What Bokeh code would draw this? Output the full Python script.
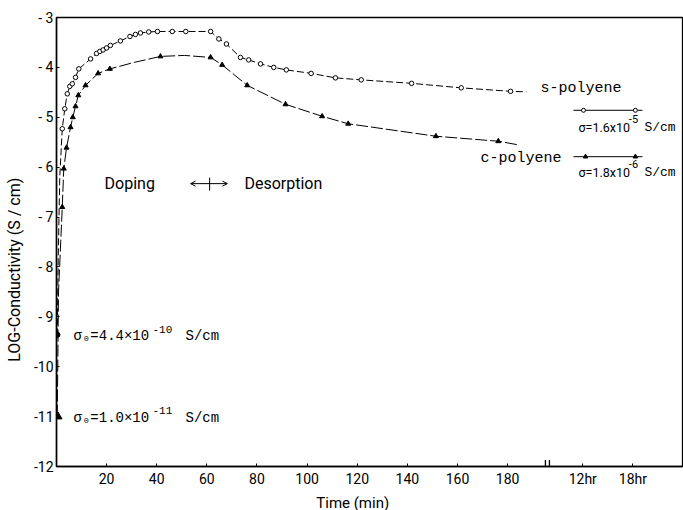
from bokeh.plotting import figure
from bokeh.models import Label, Arrow, OpenHead, FixedTicker
from bokeh.embed import file_html
from bokeh.resources import INLINE

# ---------------- data ----------------
# s-polyene markers (open circles)
s_time = [2.3, 3.3, 4.3, 5.3, 6.3, 7.6, 8.9, 13.6, 16.0, 17.3, 18.6, 20.0, 21.5,
          25.5, 29.3, 31.5, 33.5, 36.8, 40.3, 46.2, 51.6, 61.5, 64.8, 67.8, 73.4,
          76.7, 81.4, 86.7, 91.7, 101.6, 111.3, 121.6, 141.7, 161.5, 181.2]
s_logc = [-5.23, -4.83, -4.53, -4.38, -4.33, -4.20, -4.03, -3.83, -3.72, -3.68, -3.65,
          -3.61, -3.56, -3.47, -3.38, -3.34, -3.31, -3.29, -3.28, -3.28, -3.28, -3.28,
          -3.43, -3.53, -3.80, -3.85, -3.93, -4.00, -4.05, -4.12, -4.21, -4.25, -4.32,
          -4.41, -4.48]
# s-polyene drawn curve (start from sigma0 and tail after last marker)
s_line_time = [0.3, 0.7, 1.3] + s_time + [187.5]
s_line_logc = [-9.37, -7.8, -6.2] + s_logc + [-4.49]

# c-polyene markers (filled triangles)
c_time = [2.3, 2.9, 4.0, 5.6, 6.5, 7.6, 8.7, 11.6, 16.6, 21.3, 41.5, 61.5, 66.1,
          76.1, 91.4, 106.0, 116.4, 151.4, 176.3]
c_logc = [-6.80, -6.03, -5.61, -5.20, -5.00, -4.78, -4.56, -4.36, -4.12, -4.03, -3.78,
          -3.80, -3.95, -4.36, -4.74, -4.98, -5.13, -5.38, -5.48]
c_line_time = [0.3, 0.8, 1.6, 2.3, 2.9, 4.0, 5.6, 6.5, 7.6, 8.7, 11.6, 16.6, 21.3, 31.0,
               41.5, 51.0, 61.5, 66.1, 76.1, 91.4, 106.0, 116.4, 151.4, 176.3, 184.0]
c_line_logc = [-11.0, -8.5, -7.6, -6.80, -6.03, -5.61, -5.20, -5.00, -4.78, -4.56, -4.36,
               -4.12, -4.03, -3.90, -3.78, -3.76, -3.80, -3.95, -4.36, -4.74, -4.98,
               -5.13, -5.38, -5.48, -5.55]

# initial conductivities
s0_logc = -9.36   # 4.4e-10 S/cm
c0_logc = -11.0   # 1.0e-11 S/cm

x_ticks = [20, 40, 60, 80, 100, 120, 140, 160, 180, 210, 230]
x_tick_text = {210: "12hr", 230: "18hr"}
y_ticks = [-3, -4, -5, -6, -7, -8, -9, -10, -11, -12]
y_tick_text = {-3: "- 3", -4: "- 4", -5: "- 5", -6: "- 6", -7: "- 7", -8: "- 8",
               -9: "- 9", -10: "-10", -11: "-11", -12: "-12"}

SANS = "Roboto"
MONO = "Liberation Mono"
NB = "\u00a0"

p = figure(frame_width=626, frame_height=449, x_range=(0, 249.8), y_range=(-12, -3),
           min_border_left=56, min_border_right=1, min_border_top=17, min_border_bottom=44,
           output_backend="svg", toolbar_location=None)
p.grid.visible = False
p.outline_line_color = "black"
p.outline_line_width = 1.3
p.background_fill_color = "white"
p.border_fill_color = "white"

for ax in (p.xaxis[0], p.yaxis[0]):
    ax.axis_line_color = "black"
    ax.axis_line_width = 1.5
    ax.major_tick_in = 3
    ax.major_tick_out = 0
    ax.minor_tick_in = 0
    ax.minor_tick_out = 0
    ax.major_label_text_font = SANS
    ax.major_label_text_font_size = "14px"
    ax.major_label_text_color = "black"
    ax.major_tick_line_color = "black"
    ax.axis_label_text_font = SANS
    ax.axis_label_text_font_style = "normal"
    ax.axis_label_text_color = "black"

p.xaxis[0].ticker = FixedTicker(ticks=x_ticks)
p.xaxis[0].major_label_overrides = x_tick_text
p.xaxis[0].major_label_standoff = 4
p.xaxis[0].axis_label = "Time (min)" + NB * 9
p.xaxis[0].axis_label_text_font_size = "15px"
p.xaxis[0].axis_label_standoff = 4

p.yaxis[0].ticker = FixedTicker(ticks=y_ticks)
p.yaxis[0].major_label_overrides = y_tick_text
p.yaxis[0].major_label_standoff = 3
p.yaxis[0].axis_label = "LOG-Conductivity  (S / cm)" + NB * 13
p.yaxis[0].axis_label_text_font_size = "16px"
p.yaxis[0].axis_label_standoff = 7

# curves
p.line(s_line_time, s_line_logc, line_color="black", line_width=1, line_dash="7 3")
p.scatter(s_time, s_logc, marker="circle", size=4.5, fill_color="white",
          line_color="black", line_width=1)
p.line(c_line_time, c_line_logc, line_color="black", line_width=1, line_dash="12 3")
p.scatter(c_time, c_logc, marker="triangle", size=5, fill_color="black",
          line_color="black")

# initial points
p.scatter([0.4], [s0_logc], marker="circle", size=5, fill_color="black", line_color="black")
p.scatter([0.6], [c0_logc], marker="triangle", size=8, fill_color="black", line_color="black")

# legend samples
p.line([206.3, 233.8], [-4.86, -4.86], line_color="black", line_width=1)
p.scatter([210.3, 231.0], [-4.86, -4.86], marker="circle", size=4, fill_color="white",
          line_color="black")
p.line([206.3, 233.8], [-5.79, -5.79], line_color="black", line_width=1)
p.scatter([211.1, 231.0], [-5.79, -5.79], marker="triangle", size=4.5, fill_color="black",
          line_color="black")

# axis break marks
p.segment([195.1, 196.7], [-12, -12], [195.1, 196.7], [-11.87, -11.87],
          line_color="black", line_width=1.3)

def lab(x, y, t, font, size, align="left"):
    p.add_layout(Label(x=x, y=y, text=t, text_font=font, text_font_size=size,
                       text_align=align, text_baseline="middle",
                       text_color="black"))

# series names and sigma notes
lab(193.1, -4.42, "s-polyene", MONO, "15px")
lab(208.3, -5.20, "σ=1.6x10", SANS, "12.5px")
lab(228.4, -5.03, "-5", SANS, "11px")
lab(234.6, -5.20, "S/cm", MONO, "13px")
lab(169.2, -5.83, "c-polyene", MONO, "15px")
lab(208.3, -6.11, "σ=1.8x10", SANS, "12.5px")
lab(228.4, -5.94, "-6", SANS, "11px")
lab(234.6, -6.11, "S/cm", MONO, "13px")

# doping / desorption
lab(19.2, -6.33, "Doping", SANS, "16px")
lab(75.0, -6.33, "Desorption", SANS, "16px")
p.add_layout(Arrow(start=OpenHead(size=5, line_width=1), end=OpenHead(size=5, line_width=1),
                   x_start=53.5, y_start=-6.33, x_end=68.2, y_end=-6.33,
                   line_color="black", line_width=1))
p.segment([61.1], [-6.21], [61.1], [-6.47], line_color="black", line_width=1)

# initial conductivity notes
lab(6.8, -9.39, "σ₀=4.4×10", MONO, "14px")
lab(38.3, -9.25, "-10", MONO, "11px")
lab(51.5, -9.39, "S/cm", MONO, "14px")
lab(6.8, -11.02, "σ₀=1.0×10", MONO, "14px")
lab(38.3, -10.88, "-11", MONO, "11px")
lab(51.5, -11.02, "S/cm", MONO, "14px")

open("out.html", "w").write(file_html(p, INLINE))
